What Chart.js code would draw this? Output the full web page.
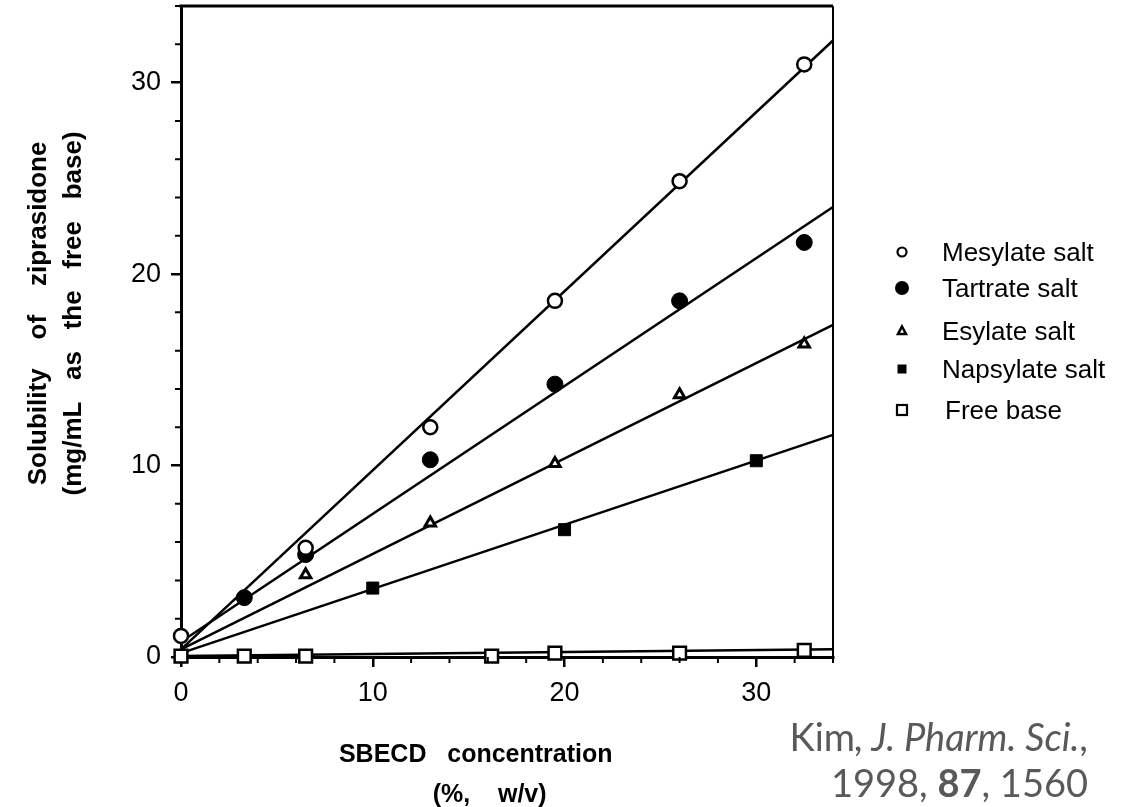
<!DOCTYPE html>
<html>
<head>
<meta charset="utf-8">
<script src="https://cdn.jsdelivr.net/npm/chart.js@4"></script>
<style>
  html, body { margin: 0; padding: 0; background: #fff; }
  #wrap { position: relative; width: 1140px; height: 807px; overflow: hidden; }
  #chart { position: absolute; left: 0; top: 0; }
  .legend-row { position: absolute; height: 30px; font-family: "Liberation Sans", Arial, sans-serif; font-size: 26px; line-height: 30px; color: #000; white-space: nowrap; }
  .legend-row svg { position: absolute; left: 892px; top: 5px; }
  .legend-row span { position: absolute; left: 942px; top: 0; }
  #cite { position: absolute; right: 52px; top: 713px; text-align: right; font-family: Lato, "Open Sans", sans-serif; font-size: 38px; line-height: 46px; color: #595959; white-space: nowrap; }
</style>
</head>
<body>
<div id="wrap">
  <canvas id="chart" width="1140" height="807"></canvas>
  <div id="legend"></div>
  <div id="cite">Kim<i>, J. Pharm. Sci.</i>,<br>1998, <b>87</b>, 1560</div>
</div>
<script>
// measured points (SBECD %, solubility mg/mL)
const mesylateX = [0, 6.5, 13, 19.5, 26, 32.5];
const mesylateY = [1.1, 5.7, 12.0, 18.6, 24.85, 30.95];
const tartrateX = [3.3, 6.5, 13, 19.5, 26, 32.5];
const tartrateY = [3.1, 5.35, 10.3, 14.25, 18.6, 21.65];
const esylateX = [6.5, 13, 19.5, 26, 32.5];
const esylateY = [4.3, 7.0, 10.1, 13.7, 16.35];
const napsylateX = [10, 20, 30];
const napsylateY = [3.6, 6.65, 10.25];
const freeBaseX = [0, 3.3, 6.5, 16.2, 19.5, 26, 32.5];
const freeBaseY = [0.05, 0.05, 0.05, 0.05, 0.2, 0.2, 0.35];

// regression lines, read at both ends of the plot
const fitX = [0, 34];
const mesylateFit = [0.4, 32.2];
const tartrateFit = [0.8, 23.5];
const esylateFit = [0.4, 17.35];
const napsylateFit = [0.2, 11.6];
const freeBaseFit = [0.05, 0.4];

const seriesLabels = ["Mesylate salt", "Tartrate salt", "Esylate salt", "Napsylate salt", "Free base"];
const minorTicks = [2, 4, 6, 8, 12, 14, 16, 18, 22, 24, 26, 28, 32, 34];

const FONT = '"Liberation Sans", Arial, sans-serif';

function toPoints(xs, ys) {
  return xs.map((x, i) => ({ x, y: ys[i] }));
}

function pointSet(label, xs, ys, style) {
  return Object.assign({
    label,
    data: toPoints(xs, ys),
    showLine: false,
    clip: false,
    order: 1,
    borderColor: "#000",
  }, style);
}

function fitSet(ys) {
  return {
    label: "fit",
    data: toPoints(fitX, ys),
    showLine: true,
    pointRadius: 0,
    borderColor: "#000",
    borderWidth: 2.5,
    clip: false,
    order: 2,
  };
}

// fixed axis boxes so the plot sits where the original does
function fixBox(size) {
  return (s) => {
    if (s.isHorizontal()) s.height = size;
    else s.width = size;
    s.paddingTop = 0;
    s.paddingBottom = 0;
    s.paddingLeft = 0;
    s.paddingRight = 0;
  };
}

// top/right frame + small ticks every 2 units
const frameAndMinorTicks = {
  id: "frameAndMinorTicks",
  afterDraw(chart) {
    const { ctx, chartArea: a, scales: { x, y } } = chart;
    ctx.save();
    ctx.strokeStyle = "#000";
    ctx.lineWidth = 3;
    ctx.beginPath();
    ctx.moveTo(a.left - 1.5, a.top);
    ctx.lineTo(a.right, a.top);
    ctx.stroke();
    ctx.lineWidth = 2;
    ctx.beginPath();
    ctx.moveTo(a.right, a.top);
    ctx.lineTo(a.right, a.bottom);
    minorTicks.forEach((v) => {
      const px = x.getPixelForValue(v);
      ctx.moveTo(px, a.bottom);
      ctx.lineTo(px, a.bottom + 6);
      const py = y.getPixelForValue(v);
      ctx.moveTo(a.left, py);
      ctx.lineTo(a.left - 6, py);
    });
    ctx.stroke();
    ctx.restore();
  },
};

new Chart(document.getElementById("chart"), {
  type: "scatter",
  data: {
    datasets: [
      pointSet(seriesLabels[0], mesylateX, mesylateY, { pointStyle: "circle", pointRadius: 7, borderWidth: 2.5, backgroundColor: "#fff" }),
      pointSet(seriesLabels[1], tartrateX, tartrateY, { pointStyle: "circle", pointRadius: 8, borderWidth: 1, backgroundColor: "#000" }),
      pointSet(seriesLabels[2], esylateX, esylateY, { pointStyle: "triangle", pointRadius: 6, borderWidth: 3, backgroundColor: "#fff" }),
      pointSet(seriesLabels[3], napsylateX, napsylateY, { pointStyle: "rect", pointRadius: 8.5, borderWidth: 1, backgroundColor: "#000" }),
      pointSet(seriesLabels[4], freeBaseX, freeBaseY, { pointStyle: "rect", pointRadius: 9, borderWidth: 2.5, backgroundColor: "#fff" }),
      fitSet(mesylateFit),
      fitSet(tartrateFit),
      fitSet(esylateFit),
      fitSet(napsylateFit),
      fitSet(freeBaseFit),
    ],
  },
  options: {
    responsive: false,
    animation: false,
    layout: { autoPadding: false, padding: { top: 6, right: 307, bottom: 0, left: 0 } },
    plugins: { legend: { display: false }, tooltip: { enabled: false } },
    scales: {
      x: {
        type: "linear",
        min: 0,
        max: 34,
        afterFit: fixBox(150),
        border: { color: "#000", width: 3 },
        grid: { drawOnChartArea: false, color: "#000", lineWidth: 2.5, tickLength: 10 },
        ticks: { stepSize: 10, includeBounds: false, padding: 10, color: "#000", maxRotation: 0, font: { family: FONT, size: 27 } },
        title: {
          display: true,
          text: ["SBECD   concentration         ", "(%,    w/v)     "],
          color: "#000",
          font: { family: FONT, size: 25, weight: "bold", lineHeight: "40px" },
          padding: { top: 0, bottom: -8 },
        },
      },
      y: {
        type: "linear",
        min: 0,
        max: 34,
        afterFit: fixBox(181),
        border: { color: "#000", width: 3 },
        grid: { drawOnChartArea: false, color: "#000", lineWidth: 2.5, tickLength: 10 },
        ticks: { stepSize: 10, includeBounds: false, padding: 10, color: "#000", font: { family: FONT, size: 27 } },
        title: {
          display: true,
          text: ["     Solubility    of    ziprasidone", "     (mg/mL   as   the   free   base)"],
          color: "#000",
          font: { family: FONT, size: 26, weight: "bold", lineHeight: "35px" },
          padding: { top: 21.5, bottom: 0 },
        },
      },
    },
  },
  plugins: [frameAndMinorTicks],
});

// legend drawn as html beside the plot
const legendMarks = [
  '<circle cx="10" cy="10" r="4.5" fill="#fff" stroke="#000" stroke-width="2.2"/>',
  '<circle cx="10" cy="10" r="7" fill="#000"/>',
  '<polygon points="10,5.5 14,13 6,13" fill="#fff" stroke="#000" stroke-width="2.5" stroke-linejoin="miter"/>',
  '<rect x="5.5" y="5.5" width="9" height="9" fill="#000"/>',
  '<rect x="5" y="5" width="10" height="10" fill="#fff" stroke="#000" stroke-width="2.2"/>',
];
const legendCenters = [252, 288, 331, 369, 410];
const legend = document.getElementById("legend");
seriesLabels.forEach((label, i) => {
  const row = document.createElement("div");
  row.className = "legend-row";
  row.style.top = (legendCenters[i] - 15) + "px";
  row.innerHTML = '<svg width="20" height="20" viewBox="0 0 20 20">' + legendMarks[i] + "</svg><span" +
    (i === 4 ? ' style="left:945px"' : "") + ">" + label + "</span>";
  legend.appendChild(row);
});
</script>
</body>
</html>
